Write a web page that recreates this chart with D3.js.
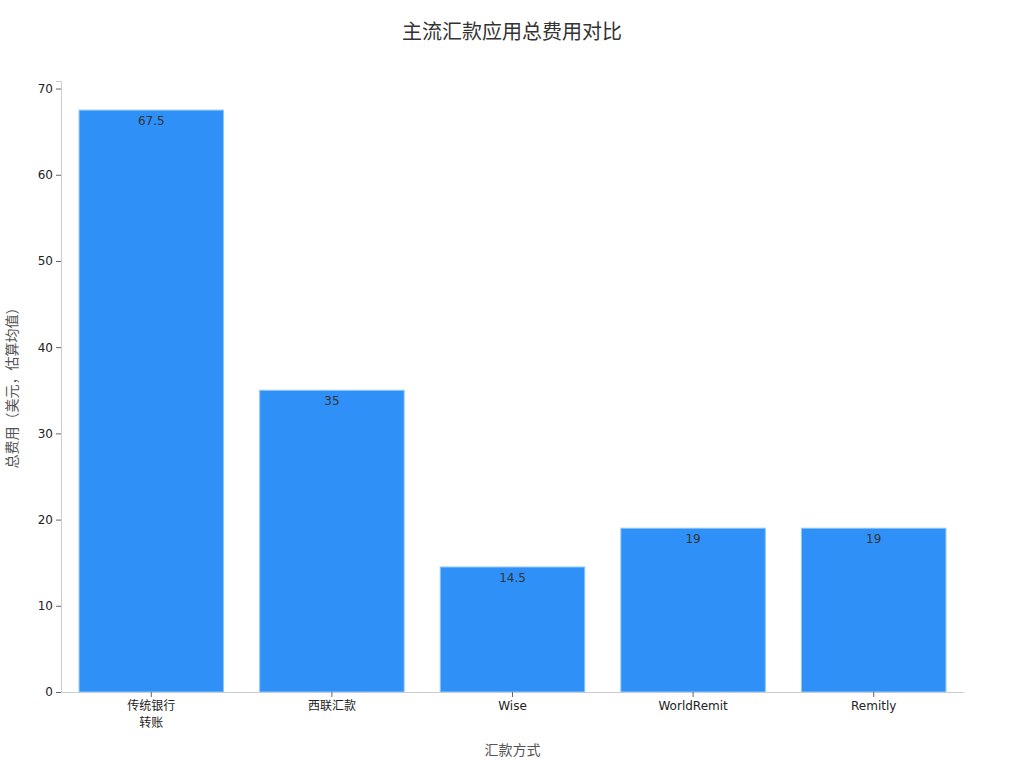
<!DOCTYPE html>
<html lang="zh">
<head>
<meta charset="utf-8">
<script src="https://d3js.org/d3.v7.min.js"></script>
<style>
  body { margin: 0; background: #fff; }
  text { font-family: "DejaVu Sans", "Noto Sans CJK SC", sans-serif; }
</style>
</head>
<body>
<div id="chart"></div>
<script>
    // data
    var methods = ["传统银行\n转账", "西联汇款", "Wise", "WorldRemit", "Remitly"];
    var fees = [67.5, 35, 14.5, 19, 19];
    var yTicks = [0, 10, 20, 30, 40, 50, 60, 70];

    var W = 1024, H = 768;
    var margin = {top: 81, right: 60, bottom: 76, left: 61},
        width = W - margin.left - margin.right,
        height = H - margin.top - margin.bottom;

    var svg = d3.select("#chart").append("svg")
        .attr("width", W).attr("height", H);

    var g = svg.append("g")
        .attr("transform", "translate(" + margin.left + "," + margin.top + ")");

    var x = d3.scaleBand()
        .domain(methods)
        .range([0, width])
        .paddingInner(0.2)
        .paddingOuter(0.1);

    var y = d3.scaleLinear()
        .domain([0, d3.max(fees) * 1.05])
        .range([height, 0]);

    // title
    svg.append("text")
        .attr("x", W / 2).attr("y", 39)
        .attr("text-anchor", "middle")
        .style("font-size", "20px")
        .style("fill", "#333")
        .text("主流汇款应用总费用对比");

    // bars
    g.selectAll(".bar")
      .data(methods)
      .enter().append("rect")
        .attr("x", function(d) { return x(d); })
        .attr("y", function(d, i) { return y(fees[i]); })
        .attr("width", x.bandwidth())
        .attr("height", function(d, i) { return height - y(fees[i]); })
        .style("fill", "#2f91f7")
        .style("stroke", "#8cc8fa")
        .style("stroke-width", 1);

    // value labels
    g.selectAll(".val")
      .data(methods)
      .enter().append("text")
        .attr("x", function(d) { return x(d) + x.bandwidth() / 2; })
        .attr("y", function(d, i) { return y(fees[i]) + 15; })
        .attr("text-anchor", "middle")
        .style("font-size", "12px")
        .style("fill", "#333")
        .text(function(d, i) { return fees[i]; });

    // y axis
    var ya = g.append("g")
        .call(d3.axisLeft(y).tickValues(yTicks).tickSize(5).tickPadding(3));
    ya.select(".domain").attr("stroke", "#ccc");
    ya.selectAll(".tick line").attr("stroke", "#666");
    ya.selectAll(".tick text").style("font-size", "12px").style("fill", "#222")
        .style("font-family", "'DejaVu Sans', 'Noto Sans CJK SC', sans-serif");

    // x axis
    var xa = g.append("g")
        .attr("transform", "translate(0," + height + ")")
        .call(d3.axisBottom(x).tickSize(5).tickSizeOuter(0).tickPadding(4));
    xa.select(".domain").attr("stroke", "#ccc");
    xa.selectAll(".tick line").attr("stroke", "#666");
    xa.selectAll(".tick text")
        .style("font-size", "12px").style("fill", "#222")
        .style("font-family", "'DejaVu Sans', 'Noto Sans CJK SC', sans-serif")
        .each(function(d) {
          var t = d3.select(this), lines = d.split("\n");
          t.text(null);
          lines.forEach(function(l, i) {
            t.append("tspan").attr("x", 0).attr("dy", i === 0 ? "0.71em" : "1.45em").text(l);
          });
        });

    // axis titles
    svg.append("text")
        .attr("x", margin.left + width / 2).attr("y", 755)
        .attr("text-anchor", "middle")
        .style("font-size", "14px").style("fill", "#555")
        .text("汇款方式");

    svg.append("text")
        .attr("transform", "translate(17," + (margin.top + height / 2 - 2) + ") rotate(-90)")
        .attr("text-anchor", "middle")
        .style("font-size", "14px").style("fill", "#555")
        .text("总费用（美元，估算均值）");
</script>
</body>
</html>
